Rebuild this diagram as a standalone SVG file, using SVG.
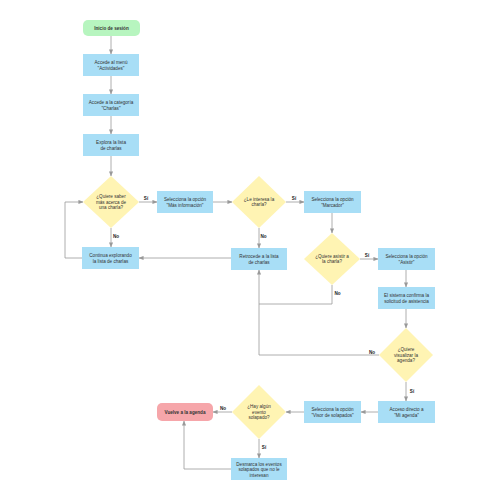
<svg xmlns="http://www.w3.org/2000/svg" width="500" height="500" viewBox="0 0 500 500">
<defs>
<marker id="ah" viewBox="0 0 6 6" refX="5.5" refY="3" markerWidth="5" markerHeight="5" orient="auto" markerUnits="userSpaceOnUse">
<path d="M0,0.5 L6,3 L0,5.5 z" fill="#999"/>
</marker>
<style>
.box{fill:#a8def6;}
.dia{fill:#fff4b3;}
.start{fill:#b7f5bf;}
.end{fill:#f6a6aa;}
.t{font-family:"Liberation Sans",Arial,sans-serif;font-size:4.6px;fill:#333;text-anchor:middle;}
.b{font-weight:bold;}
.lbl{font-family:"Liberation Sans",Arial,sans-serif;font-size:4.6px;fill:#222;font-weight:bold;text-anchor:middle;}
.e{fill:none;stroke:#9a9a9a;stroke-width:0.8;}
.ea{fill:none;stroke:#9a9a9a;stroke-width:0.8;marker-end:url(#ah);}
</style>
</defs>
<rect width="500" height="500" fill="#fff"/>
<g id="connectors">
<path class="ea" d="M111,36 V54"/>
<path class="ea" d="M111,76 V94"/>
<path class="ea" d="M111,116 V134"/>
<path class="ea" d="M111,156 V176"/>
<path class="ea" d="M139,202 H157"/>
<path class="ea" d="M111,228 V247"/>
<path class="ea" d="M82,258 H65 V202 H83"/>
<path class="ea" d="M213,202 H232"/>
<path class="ea" d="M286,202 H304"/>
<path class="ea" d="M259,228 V248"/>
<path class="ea" d="M231,258 H139"/>
<path class="ea" d="M332,213 V233"/>
<path class="ea" d="M360,259 H378"/>
<path class="ea" d="M406,270 V287"/>
<path class="ea" d="M406,309 V328"/>
<path class="e" d="M332,285 V304 H259"/>
<path class="ea" d="M379,355 H259 V270"/>
<path class="ea" d="M406,382 V401"/>
<path class="ea" d="M378,412 H361"/>
<path class="ea" d="M304,412 H286"/>
<path class="ea" d="M232,412 H213"/>
<path class="ea" d="M259,439 V458"/>
<path class="ea" d="M231,469 H184 V421"/>
</g>
<g id="labels">
<text class="lbl" x="146" y="200">Sí</text>
<text class="lbl" x="116" y="237.5">No</text>
<text class="lbl" x="294" y="200">Sí</text>
<text class="lbl" x="263.5" y="237.5">No</text>
<text class="lbl" x="367" y="257">Sí</text>
<text class="lbl" x="337.5" y="294.5">No</text>
<text class="lbl" x="372" y="353.5">No</text>
<text class="lbl" x="412" y="392.5">Sí</text>
<text class="lbl" x="223" y="410">No</text>
<text class="lbl" x="264" y="448.5">Sí</text>
</g>
<g id="n-inicio"><rect class="start" x="83" y="20" width="57" height="16" rx="5"/><text class="t b" x="111.5" y="29.6">Inicio de sesión</text></g>
<g id="n-menu"><rect class="box" x="83" y="54" width="56" height="22"/><text class="t" x="111" y="64">Accede al menú</text><text class="t" x="111" y="70">"Actividades"</text></g>
<g id="n-categoria"><rect class="box" x="83" y="94" width="56" height="22"/><text class="t" x="111" y="104">Accede a la categoría</text><text class="t" x="111" y="110">"Charlas"</text></g>
<g id="n-explora"><rect class="box" x="83" y="134" width="56" height="22"/><text class="t" x="111" y="144">Explora la lista</text><text class="t" x="111" y="150">de charlas</text></g>
<g id="n-d1"><polygon class="dia" points="111,176 139,202 111,228 83,202"/><text class="t" x="111" y="198">¿Quiere saber</text><text class="t" x="111" y="203.5">más acerca de</text><text class="t" x="111" y="209">una charla?</text></g>
<g id="n-masinfo"><rect class="box" x="157" y="191" width="56" height="22"/><text class="t" x="185" y="201">Selecciona la opción</text><text class="t" x="185" y="207">"Más información"</text></g>
<g id="n-d2"><polygon class="dia" points="259,176 286,202 259,228 232,202"/><text class="t" x="259" y="200.5">¿Le interesa la</text><text class="t" x="259" y="206">charla?</text></g>
<g id="n-marcador"><rect class="box" x="304" y="191" width="57" height="22"/><text class="t" x="332.5" y="201">Selecciona la opción</text><text class="t" x="332.5" y="207">"Marcador"</text></g>
<g id="n-continua"><rect class="box" x="82" y="247" width="57" height="22"/><text class="t" x="110.5" y="257">Continua explorando</text><text class="t" x="110.5" y="263">la lista de charlas</text></g>
<g id="n-retrocede"><rect class="box" x="231" y="248" width="56" height="22"/><text class="t" x="259" y="258">Retrocede a la lista</text><text class="t" x="259" y="264">de charlas</text></g>
<g id="n-d3"><polygon class="dia" points="332,233 360,259 332,285 304,259"/><text class="t" x="332" y="257.5">¿Quiere asistir a</text><text class="t" x="332" y="263">la charla?</text></g>
<g id="n-asistir"><rect class="box" x="378" y="248" width="57" height="22"/><text class="t" x="406.5" y="258">Selecciona la opción</text><text class="t" x="406.5" y="264">"Asistir"</text></g>
<g id="n-confirma"><rect class="box" x="378" y="287" width="57" height="22"/><text class="t" x="406.5" y="297">El sistema confirma la</text><text class="t" x="406.5" y="303">solicitud de asistencia</text></g>
<g id="n-d4"><polygon class="dia" points="406,328 433,355 406,382 379,355"/><text class="t" x="406" y="351">¿Quiere</text><text class="t" x="406" y="356.5">visualizar la</text><text class="t" x="406" y="362">agenda?</text></g>
<g id="n-miagenda"><rect class="box" x="378" y="401" width="57" height="22"/><text class="t" x="406.5" y="411">Acceso directo a</text><text class="t" x="406.5" y="417">"Mi agenda"</text></g>
<g id="n-visor"><rect class="box" x="304" y="401" width="57" height="22"/><text class="t" x="332.5" y="411">Selecciona la opción</text><text class="t" x="332.5" y="417">"Visor de solapados"</text></g>
<g id="n-d5"><polygon class="dia" points="259,385 286,412 259,439 232,412"/><text class="t" x="259" y="408">¿Hay algún</text><text class="t" x="259" y="413.5">evento</text><text class="t" x="259" y="419">solapado?</text></g>
<g id="n-vuelve"><rect class="end" x="157" y="403" width="56" height="18" rx="5"/><text class="t b" x="185" y="413.6">Vuelve a la agenda</text></g>
<g id="n-desmarca"><rect class="box" x="231" y="458" width="56" height="22"/><text class="t" x="259" y="465.5">Desmarca los eventos</text><text class="t" x="259" y="471">solapados que no le</text><text class="t" x="259" y="476.5">interesan</text></g>
</svg>
